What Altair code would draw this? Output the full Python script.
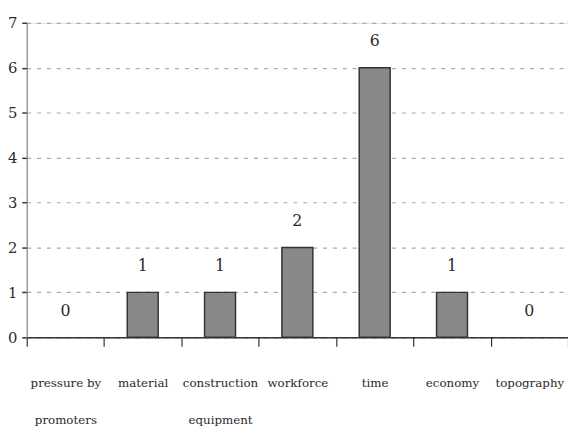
import altair as alt
import pandas as pd

categories = ["pressure by\npromoters", "material", "construction\nequipment",
              "workforce", "time", "economy", "topography"]
values = [0, 1, 1, 2, 6, 1, 0]

df = pd.DataFrame({"cat": categories, "val": values})

FONT = "DejaVu Serif"

x = alt.X("cat:N", sort=categories, title=None,
          scale=alt.Scale(paddingInner=0, paddingOuter=0),
          axis=alt.Axis(labelAngle=0, labelExpr="split(datum.label, '\\n')",
                        labelFont=FONT, labelFontSize=12, labelColor="#2a2a2a",
                        labelLineHeight=37, labelPadding=32, labelBaseline="top",
                        tickBand="extent", tickSize=9, tickColor="#333", tickWidth=1.2,
                        domainColor="#333", domainWidth=1.5, grid=False))
y = alt.Y("val:Q", title=None,
          scale=alt.Scale(domain=[0, 7], nice=False),
          axis=alt.Axis(values=[0, 1, 2, 3, 4, 5, 6, 7], labelFont=FONT, labelFontSize=15,
                        labelColor="#2a2a2a", labelPadding=5, tickSize=5, tickColor="#333",
                        tickWidth=1.5, domainColor="#888", domainWidth=1.2,
                        grid=True, gridColor="#aaa", gridDash=[4, 6], gridWidth=1.2))

bars = alt.Chart(df).transform_filter("datum.val > 0").mark_bar(
    color="#888888", stroke="#333", strokeWidth=1.5,
    width=alt.RelativeBandSize(0.4)).encode(x=x, y=y)
text = alt.Chart(df).mark_text(font=FONT, fontSize=16, color="#2a2a2a", baseline="middle", dy=-27).encode(
    x=alt.X("cat:N", sort=categories), y="val:Q", text="val:Q")

chart = (bars + text).properties(
    width=549, height=319,
    autosize=alt.AutoSizeParams(type="none"),
    padding={"left": 19, "top": 12, "right": 0, "bottom": 90},
).configure_view(stroke=None).configure(background="white")

chart.save("out.html", embed_options={"renderer": "svg", "actions": False})
